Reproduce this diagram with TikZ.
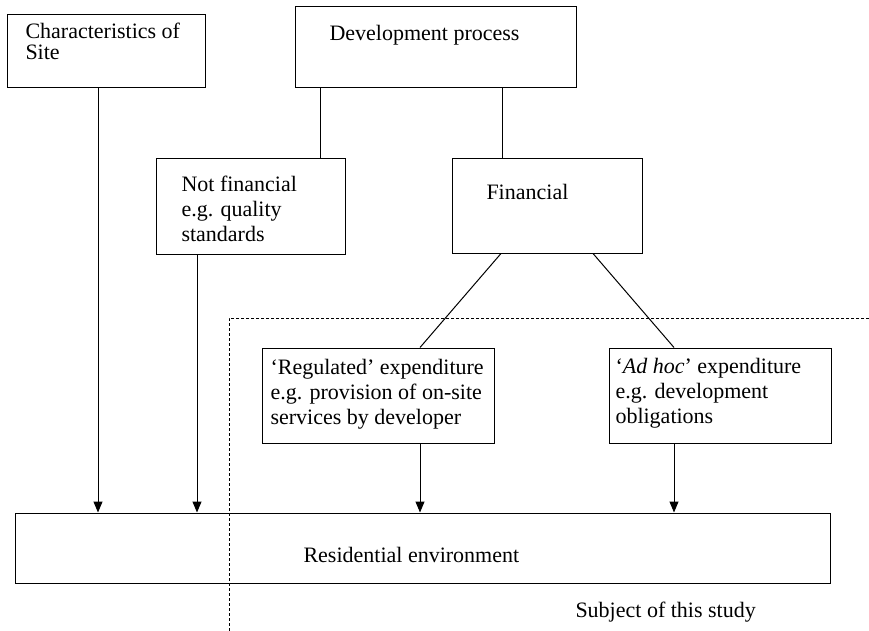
\documentclass[tikz,border=0pt]{standalone}
\usepackage{fontspec}
\setmainfont{Liberation Serif}
\usetikzlibrary{arrows.meta}

\begin{document}
\begin{tikzpicture}[x=1pt, y=-1pt, line width=1pt,
	box/.style={draw, rectangle, inner sep=0pt},
	txt/.style={anchor=base west, align=left, inner sep=0pt, font=\fontsize{22}{25}\selectfont},
	arr/.style={-{Triangle[length=11pt, width=9pt]}}]
	\useasboundingbox (0, 0) rectangle (869, 631);
	
	\node[box, minimum width=198pt, minimum height=73pt] (site) at (106, 51.5) {};
	\node[box, minimum width=281pt, minimum height=81pt] (dev) at (435.5, 47.5) {};
	\node[box, minimum width=189pt, minimum height=95pt] (nonfin) at (250.5, 206.5) {};
	\node[box, minimum width=190pt, minimum height=94pt] (fin) at (547, 206) {};
	\node[box, minimum width=232pt, minimum height=95pt] (reg) at (378, 395.5) {};
	\node[box, minimum width=222pt, minimum height=95pt] (adhoc) at (720, 395.5) {};
	\node[box, minimum width=815pt, minimum height=70pt] (resid) at (422.5, 548) {};
	
	\node[txt] (sitetxt) at (25, 60) {Characteristics of\\[-4pt]Site};
	\node[txt] (devtxt) at (329, 41) {Development process};
	\node[txt] (nonfintxt) at (181, 241) {Not financial\\e.g. quality\\standards};
	\node[txt] (fintxt) at (486, 199) {Financial};
	\node[txt] (regtxt) at (270, 424) {`Regulated' expenditure\\e.g. provision of on-site\\services by developer};
	\node[txt] (adhoctxt) at (615, 423) {`\textit{Ad hoc}' expenditure\\e.g. development\\obligations};
	\node[txt] (residtxt) at (303, 562) {Residential environment};
	\node[txt] (subj) at (575, 617) {Subject of this study};
	
	\draw (dev.south -| 320, 0) -- (nonfin.north -| 320, 0);
	\draw (dev.south -| 502, 0) -- (fin.north -| 502, 0);
	\draw (fin.south -| 501, 0) -- (reg.north -| 420, 0);
	\draw (fin.south -| 593, 0) -- (adhoc.north -| 674, 0);
	
	\draw[arr] (site.south -| 98, 0) -- (resid.north -| 98, 0);
	\draw[arr] (nonfin.south -| 197, 0) -- (resid.north -| 197, 0);
	\draw[arr] (reg.south -| 420, 0) -- (resid.north -| 420, 0);
	\draw[arr] (adhoc.south -| 674, 0) -- (resid.north -| 674, 0);
	
	\draw[dash pattern=on 3pt off 2pt, line width=0.8pt] (869, 318) -- (229, 318) -- (229, 631);
\end{tikzpicture}
\end{document}
